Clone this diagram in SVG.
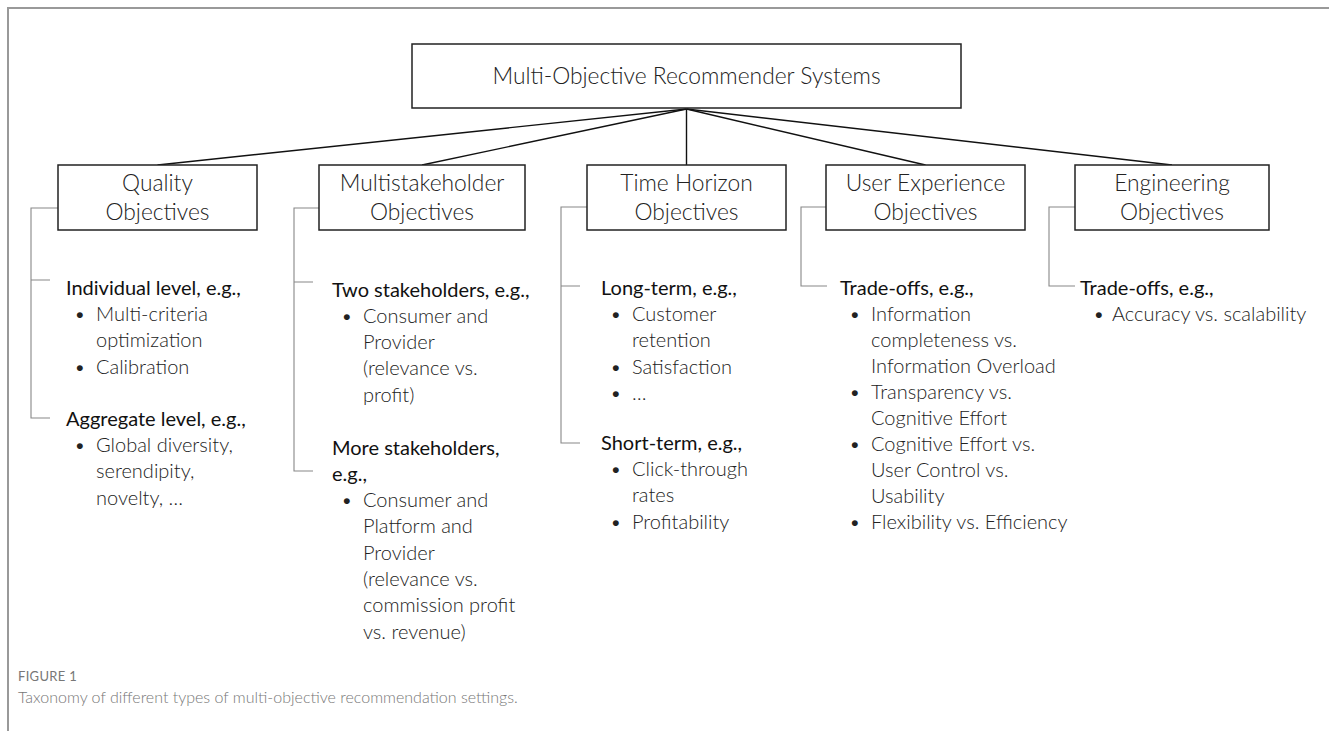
<svg xmlns="http://www.w3.org/2000/svg" width="1329" height="731" viewBox="0 0 1329 731">
  <style>
    .box { fill: #fff; stroke: #222; stroke-width: 1.5; }
    .title { font-family: Lato, "Open Sans", "Liberation Sans", sans-serif; font-size: 22.8px; font-weight: 300; fill: #222; text-anchor: middle; }
    .head { font-family: Lato, "Open Sans", "Liberation Sans", sans-serif; font-size: 20px; font-weight: 400; fill: #111; }
    .item { font-family: Lato, "Open Sans", "Liberation Sans", sans-serif; font-size: 20px; font-weight: 300; fill: #222; }
    .link { stroke: #111; stroke-width: 1.4; fill: none; }
    .bracket { stroke: #888; stroke-width: 1.1; fill: none; }
    .frame { stroke: #999; stroke-width: 2; fill: none; }
    .cap1 { font-family: Lato, "Open Sans", "Liberation Sans", sans-serif; font-size: 13px; fill: #777; letter-spacing: 0.3px; }
    .cap2 { font-family: Lato, "Open Sans", "Liberation Sans", sans-serif; font-size: 16px; font-weight: 300; fill: #777; }
  </style>

  <rect width="1329" height="731" fill="#fff"/>
  <!-- page frame: top and left rules only -->
  <path class="frame" d="M8,731 V8 H1329"/>

  <!-- connectors: root to categories, categories to their sub-items -->
  <g id="connectors">
    <path class="link" d="M686.5,109 L157.5,165"/>
    <path class="link" d="M686.5,109 L422,165"/>
    <path class="link" d="M686.5,109 L686.5,165"/>
    <path class="link" d="M686.5,109 L925.5,165"/>
    <path class="link" d="M686.5,109 L1172,165"/>

    <path class="bracket" d="M58,208 H31 V418 H50 M31,280 H50"/>
    <path class="bracket" d="M319,208 H294 V471 H313 M294,282 H313"/>
    <path class="bracket" d="M587,207 H561 V443 H580 M561,286 H580"/>
    <path class="bracket" d="M826,207 H801 V286 H827"/>
    <path class="bracket" d="M1075,207 H1049 V286 H1075"/>
  </g>

  <g id="root">
    <rect class="box" x="412" y="44" width="549" height="64"/>
    <text class="title" x="686.5" y="84">Multi-Objective Recommender Systems</text>
  </g>

  <g id="quality">
    <rect class="box" x="58" y="165" width="199" height="65"/>
    <text class="title" x="157.5" y="191">Quality</text>
    <text class="title" x="157.5" y="220">Objectives</text>
    <text class="head" x="66" y="295">Individual level, e.g.,</text>
    <text class="item" x="74" y="321">•</text>
    <text class="item" x="96" y="321">Multi-criteria</text>
    <text class="item" x="96" y="347">optimization</text>
    <text class="item" x="74" y="374">•</text>
    <text class="item" x="96" y="374">Calibration</text>
    <text class="head" x="66" y="426">Aggregate level, e.g.,</text>
    <text class="item" x="74" y="452">•</text>
    <text class="item" x="96" y="452">Global diversity,</text>
    <text class="item" x="96" y="478">serendipity,</text>
    <text class="item" x="96" y="505">novelty, …</text>
  </g>

  <g id="multistakeholder">
    <rect class="box" x="319" y="165" width="206" height="65"/>
    <text class="title" x="422" y="191">Multistakeholder</text>
    <text class="title" x="422" y="220">Objectives</text>
    <text class="head" x="332" y="297">Two stakeholders, e.g.,</text>
    <text class="item" x="341" y="323">•</text>
    <text class="item" x="363" y="323">Consumer and</text>
    <text class="item" x="363" y="349">Provider</text>
    <text class="item" x="363" y="375">(relevance vs.</text>
    <text class="item" x="363" y="402">profit)</text>
    <text class="head" x="332" y="455">More stakeholders,</text>
    <text class="head" x="332" y="481">e.g.,</text>
    <text class="item" x="341" y="507">•</text>
    <text class="item" x="363" y="507">Consumer and</text>
    <text class="item" x="363" y="533">Platform and</text>
    <text class="item" x="363" y="560">Provider</text>
    <text class="item" x="363" y="586">(relevance vs.</text>
    <text class="item" x="363" y="612">commission profit</text>
    <text class="item" x="363" y="639">vs. revenue)</text>
  </g>

  <g id="time-horizon">
    <rect class="box" x="587" y="165" width="199" height="65"/>
    <text class="title" x="686.5" y="191">Time Horizon</text>
    <text class="title" x="686.5" y="220">Objectives</text>
    <text class="head" x="601" y="295">Long-term, e.g.,</text>
    <text class="item" x="610" y="321">•</text>
    <text class="item" x="632" y="321">Customer</text>
    <text class="item" x="632" y="347">retention</text>
    <text class="item" x="610" y="374">•</text>
    <text class="item" x="632" y="374">Satisfaction</text>
    <text class="item" x="610" y="400">•</text>
    <text class="item" x="632" y="400">…</text>
    <text class="head" x="601" y="450">Short-term, e.g.,</text>
    <text class="item" x="610" y="476">•</text>
    <text class="item" x="632" y="476">Click-through</text>
    <text class="item" x="632" y="502">rates</text>
    <text class="item" x="610" y="529">•</text>
    <text class="item" x="632" y="529">Profitability</text>
  </g>

  <g id="user-experience">
    <rect class="box" x="826" y="165" width="199" height="65"/>
    <text class="title" x="925.5" y="191">User Experience</text>
    <text class="title" x="925.5" y="220">Objectives</text>
    <text class="head" x="840" y="295">Trade-offs, e.g.,</text>
    <text class="item" x="849" y="321">•</text>
    <text class="item" x="871" y="321">Information</text>
    <text class="item" x="871" y="347">completeness vs.</text>
    <text class="item" x="871" y="373">Information Overload</text>
    <text class="item" x="849" y="399">•</text>
    <text class="item" x="871" y="399">Transparency vs.</text>
    <text class="item" x="871" y="425">Cognitive Effort</text>
    <text class="item" x="849" y="451">•</text>
    <text class="item" x="871" y="451">Cognitive Effort vs.</text>
    <text class="item" x="871" y="477">User Control vs.</text>
    <text class="item" x="871" y="503">Usability</text>
    <text class="item" x="849" y="529">•</text>
    <text class="item" x="871" y="529">Flexibility vs. Efficiency</text>
  </g>

  <g id="engineering">
    <rect class="box" x="1075" y="165" width="194" height="65"/>
    <text class="title" x="1172" y="191">Engineering</text>
    <text class="title" x="1172" y="220">Objectives</text>
    <text class="head" x="1080" y="295">Trade-offs, e.g.,</text>
    <text class="item" x="1093" y="321">•</text>
    <text class="item" x="1112" y="321">Accuracy vs. scalability</text>
  </g>

  <g id="caption">
    <text class="cap1" x="18" y="681">FIGURE 1</text>
    <text class="cap2" x="18" y="703">Taxonomy of different types of multi-objective recommendation settings.</text>
  </g>
</svg>
